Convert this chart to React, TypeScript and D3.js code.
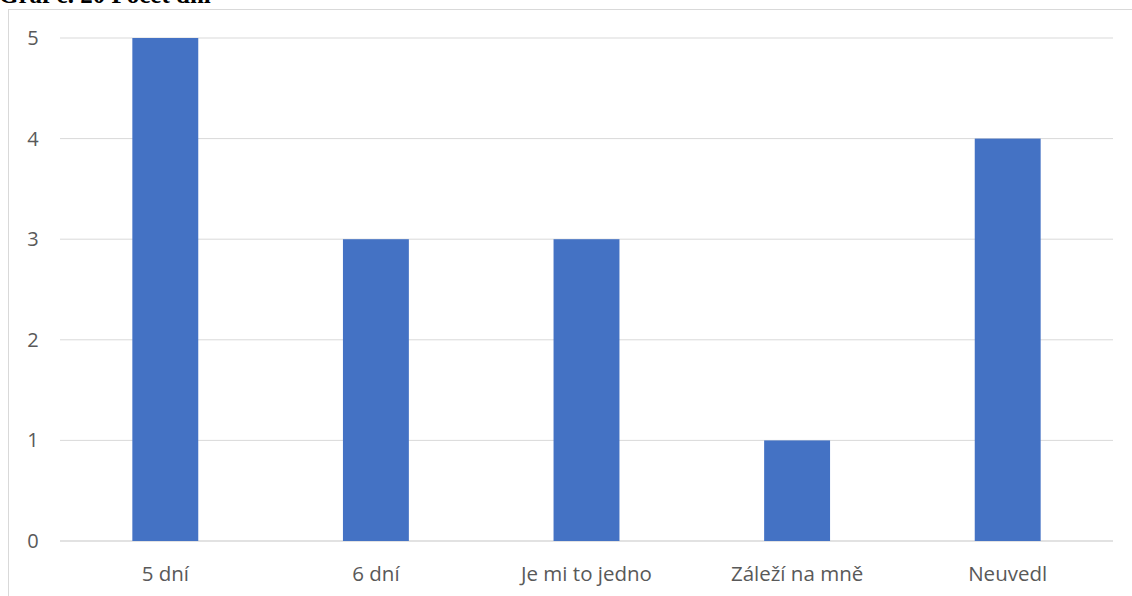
import React from "react";
import * as d3 from "d3";

const categories = ["5 dní", "6 dní", "Je mi to jedno", "Záleží na mně", "Neuvedl"];
const values = [5, 3, 3, 1, 4];
const yTicks = [0, 1, 2, 3, 4, 5];
const title = "Graf č. 20 Počet dní";

export default function App() {
  const W = 1132, H = 596;
  const x = d3.scaleBand<string>().domain(categories).range([60, 1113]).paddingInner(0.687).paddingOuter(0.3435);
  const y = d3.scaleLinear().domain([0, 5]).range([541, 38]);
  const font = "'Open Sans', 'Noto Sans', sans-serif";
  return (
    <svg width={W} height={H} style={{ position: "fixed", left: 0, top: 0, background: "#fff" }}>
      <text x={-1} y={3} fontFamily="'Liberation Serif', serif" fontWeight="bold" fontSize={25} fill="#000">{title}</text>
      <rect x={8.5} y={9.5} width={1140} height={600} fill="none" stroke="#d9d9d9" strokeWidth={1} />
      {yTicks.map(t => (
        <g key={t}>
          <line x1={60} x2={1113} y1={y(t)} y2={y(t)} stroke="#d9d9d9" strokeWidth={t === 0 ? 1.5 : 1} />
          <text x={33} y={y(t)} dy="0.35em" textAnchor="middle" fontFamily={font} fontSize={20} fill="#595959">{t}</text>
        </g>
      ))}
      {categories.map((c, i) => (
        <g key={c}>
          <rect x={x(c)} y={y(values[i])} width={x.bandwidth()} height={y(0) - y(values[i])} fill="#4472C4" />
          <text x={(x(c) as number) + x.bandwidth() / 2} y={574} dy="0.35em" textAnchor="middle" fontFamily={font} fontSize={20.5} fill="#595959">{c}</text>
        </g>
      ))}
    </svg>
  );
}
